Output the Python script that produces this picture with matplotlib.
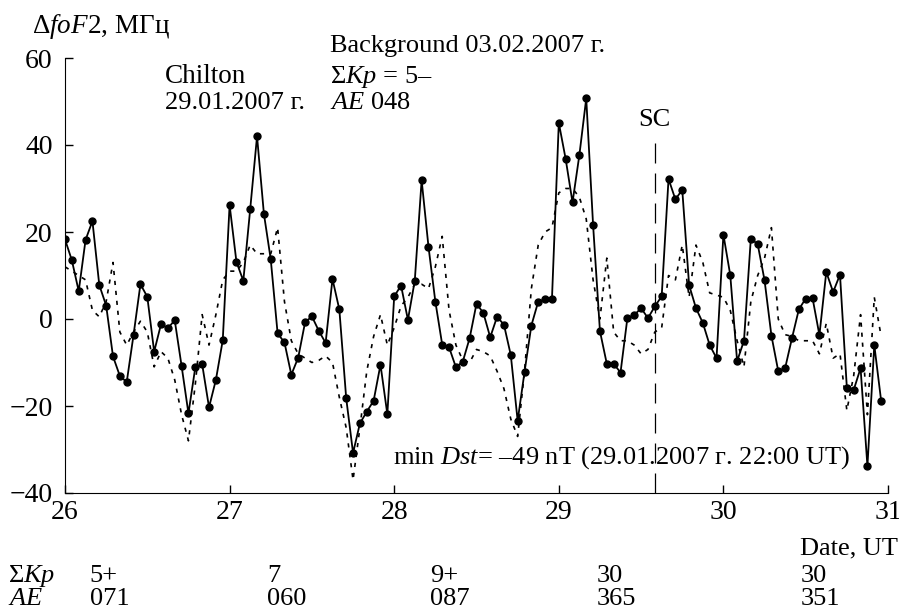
import numpy as np
import matplotlib
matplotlib.use("Agg")
import matplotlib.pyplot as plt
import matplotlib.transforms as mtransforms

plt.rcParams['font.family'] = ['Liberation Serif', 'DejaVu Serif']
plt.rcParams['mathtext.fontset'] = 'custom'
plt.rcParams['mathtext.rm'] = 'Liberation Serif'
plt.rcParams['mathtext.it'] = 'Liberation Serif:italic'
plt.rcParams['font.size'] = 20

# --- данные: ΔfoF2 (МГц), часовые значения 26-31.01.2007 ---
start_day = 26
dfof2 = [18.3, 13.5, 6.4, 18.2, 22.5, 7.8, 3.1, -8.6, -13.1, -14.5, -3.6, 8.0,
         5.1, -7.5, -1.2, -2.1, -0.3, -10.8,
         -21.7, -11.1, -10.4, -20.3, -14.0, -4.9, 26.2, 13.1, 8.8, 25.2, 42.0,
         24.2, 13.7, -3.3, -5.4, -12.8, -8.9, -0.8,
         0.6, -2.7, -5.5, 9.2, 2.2, -18.2, -30.8, -24.0, -21.3, -18.8, -10.5,
         -21.9, 5.2, 7.7, -0.2, 8.8,
         31.9, 16.6, 4.0, -5.9, -6.5, -11.1, -9.8, -4.4, 3.5, 1.4, -4.2, 0.5,
         -1.3, -8.3, -23.4, -12.2, -1.5, 4.0,
         4.5, 4.5, 45.1, 36.8, 26.8, 37.7, 50.7, 21.6, -2.8, -10.3, -10.3,
         -12.3, 0.2, 0.9, 2.5, 0.2, 2.9, 5.2,
         32.2, 27.5, 29.7, 7.8, 2.5, -0.9, -6.0, -9.0, 19.4, 10.1, -9.7, -5.0,
         18.5, 17.2, 8.9, -3.8, -12.0, -11.3,
         -4.4, 2.2, 4.7, 4.8, -3.7, 10.8, 6.2, 10.2, -15.8, -16.3, -11.3,
         -33.8, -6.0, -18.8]

# фон (пунктир)
background = [12, 11, 10, 9, 2, 0.5, 4, 13, -3, -6, -3, -0.5,
              -3, -11, -7.5, -9, -14, -22, -28, -15, 1, -6, 1, 9,
              11, 11, 13, 17, 15, 15, 15, 21, 4, -5, -8, -9,
              -10, -9.5, -8.5, -10, -18, -25, -37, -25, -12, -4, 1, -6,
              -2, 3, 5, 8, 8, 7, 12, 19, 2, -6, -9.5, -10,
              -7, -7.5, -8.5, -12, -16, -23, -27, -12, 7, 17, 20, 21,
              29, 30, 30, 28, 23, 9, 0, 14, -3, -5, -5, -6,
              -8, -7, -3, -2, 10, 9, 17, 5, 17, 13, 6, 5.5,
              5, 2, -5, -11, 4, 10, 14, 21, 0, -3.6, -4, -5,
              -5, -5, -8, -1, -9, -8, -21, -13, 1, -22, 5, -4]

t = start_day + np.arange(len(dfof2)) / 24.0

sc_time = 29 + 14 / 24.0

kp_labels = ['5+', '7', '9+', '30', '30']
ae_labels = ['071', '060', '087', '365', '351']
index_pos = [26.15, 27.23, 28.22, 29.23, 30.47]

fig = plt.figure(figsize=(8.99, 6.11), dpi=100)
ax = fig.add_axes([65 / 899, 1 - 493 / 611, 823 / 899, 435 / 611])

ax.plot(t, background, color='black', lw=1.2, linestyle=(0, (2.5, 3.5)))
ax.plot(t, dfof2, color='black', lw=1.3, marker='o', markersize=5)

ax.axvline(sc_time, ymin=0, ymax=(40.5 - (-40)) / 100, color='black', lw=0.9,
           linestyle=(0, (16, 8)))
ax.text(sc_time, 44.3, 'SC', ha='center', va='baseline', fontsize=19)

ax.set_xlim(26, 31)
ax.set_ylim(-40, 60)
ax.set_xticks([26, 27, 28, 29, 30, 31])
ax.set_yticks([-40, -20, 0, 20, 40, 60])
ax.tick_params(direction='in', length=6, width=1)
ax.tick_params(axis='x', pad=5)
ax.tick_params(axis='y', pad=9)
ax.spines['top'].set_visible(False)
ax.spines['right'].set_visible(False)

ax.text(26.607, 54.3, 'Chilton', ha='left', va='baseline', fontsize=19.5)
ax.text(26.607, 48.2, '29.01.2007 г.', ha='left', va='baseline', fontsize=19)
ax.text(27.61, 61.4, 'Background 03.02.2007 г.', ha='left', va='baseline',
        fontsize=19, clip_on=False)
ax.text(27.61, 54.3, r'Σ$\mathit{Kp}$ = 5–', ha='left', va='baseline',
        fontsize=19)
ax.text(27.61, 48.2, r'$\mathit{AE}$ 048', ha='left', va='baseline',
        fontsize=19)
ax.text(27.99, -33.2, r'min $\mathit{Dst}$= –49 nT (29.01.2007 г. 22:00 UT)',
        ha='left', va='baseline', fontsize=19)

fig.text(32 / 899, 1 - 33 / 611, r'Δ$\mathit{foF}$2, МГц', ha='left',
         va='baseline', fontsize=19.5)
fig.text(898 / 899, 1 - 548 / 611, 'Date, UT', ha='right', va='center',
         fontsize=19)

trans = mtransforms.blended_transform_factory(ax.transData, fig.transFigure)
fig.text(8 / 899, 1 - 576 / 611, r'Σ$\mathit{Kp}$', ha='left', va='center',
         fontsize=19)
fig.text(8 / 899, 1 - 599 / 611, r'$\mathit{AE}$', ha='left', va='center',
         fontsize=19)
for x, kp, ae in zip(index_pos, kp_labels, ae_labels):
    fig.text(x, 1 - 576 / 611, kp, ha='left', va='center', transform=trans,
             fontsize=19)
    fig.text(x, 1 - 599 / 611, ae, ha='left', va='center', transform=trans,
             fontsize=19)

fig.savefig('out.png', dpi=100)
